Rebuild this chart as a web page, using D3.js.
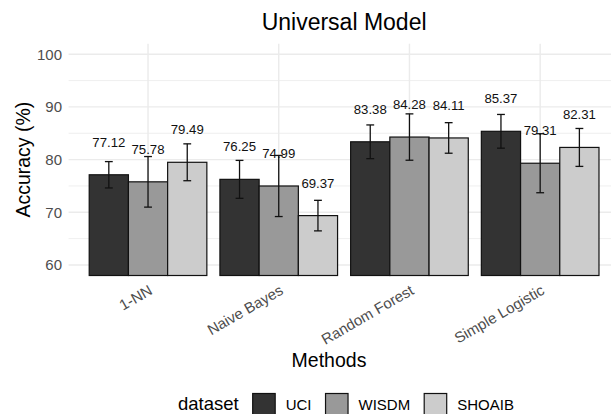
<!DOCTYPE html>
<html>
<head>
<meta charset="utf-8">
<script src="https://cdn.jsdelivr.net/npm/d3@7"></script>
<style>
  body { margin: 0; background: white; }
  text { font-family: "Liberation Sans", Arial, sans-serif; }
</style>
</head>
<body>
<div id="graf"></div>
<script>
// Datos
const methods = ['1-NN', 'Naive Bayes', 'Random Forest', 'Simple Logistic']
const datasets = ['UCI', 'WISDM', 'SHOAIB']
const uciValues = [77.12, 76.25, 83.38, 85.37]
const wisdmValues = [75.78, 74.99, 84.28, 79.31]
const shoaibValues = [79.49, 69.37, 84.11, 82.31]
const uciSd = [2.5, 3.6, 3.2, 3.2]
const wisdmSd = [4.8, 5.8, 4.4, 5.6]
const shoaibSd = [3.5, 2.9, 2.9, 3.6]
const yTicks = [60, 70, 80, 90, 100]
const yMinorTicks = [65, 75, 85, 95]
const fills = ['#333333', '#999999', '#CCCCCC']

const values = [uciValues, wisdmValues, shoaibValues]
const sds = [uciSd, wisdmSd, shoaibSd]

// Tabla larga
const data = []
methods.forEach((m, i) => {
  datasets.forEach((ds, j) => {
    data.push({ method: m, dataset: ds, value: values[j][i], sd: sds[j][i] })
  })
})

const anchoTotal = 611
const altoTotal = 414
const panel = { left: 69.6, right: 618.6, top: 43.7, bottom: 275.5 }

const svg = d3.select('#graf')
  .append('svg')
  .attr('width', anchoTotal)
  .attr('height', altoTotal)

// Escaladores
const y = d3.scaleLinear()
  .domain([58, 102])
  .range([panel.bottom, panel.top])

const x = d3.scaleBand()
  .domain(methods)
  .range([panel.left, panel.right])
  .paddingInner(0.1)
  .paddingOuter(0.15)

const xs = d3.scaleBand()
  .domain(datasets)
  .range([0, x.bandwidth()])

const color = d3.scaleOrdinal()
  .domain(datasets)
  .range(fills)

// Rejilla
const grid = svg.append('g')

grid.selectAll('.minor')
  .data(yMinorTicks)
  .join('line')
  .attr('x1', panel.left - 1)
  .attr('x2', panel.right)
  .attr('y1', d => y(d))
  .attr('y2', d => y(d))
  .attr('stroke', '#EBEBEB')
  .attr('stroke-width', 0.8)

grid.selectAll('.major')
  .data(yTicks)
  .join('line')
  .attr('x1', panel.left - 1)
  .attr('x2', panel.right)
  .attr('y1', d => y(d))
  .attr('y2', d => y(d))
  .attr('stroke', '#EBEBEB')
  .attr('stroke-width', 1.4)

grid.selectAll('.vert')
  .data(methods)
  .join('line')
  .attr('x1', d => x(d) + x.bandwidth() / 2)
  .attr('x2', d => x(d) + x.bandwidth() / 2)
  .attr('y1', panel.top)
  .attr('y2', panel.bottom)
  .attr('stroke', '#EBEBEB')
  .attr('stroke-width', 1.4)

// Barras
const g = svg.append('g')

g.selectAll('rect')
  .data(data)
  .join('rect')
  .attr('x', d => x(d.method) + xs(d.dataset))
  .attr('width', xs.bandwidth())
  .attr('y', d => y(d.value))
  .attr('height', d => panel.bottom - y(d.value))
  .attr('fill', d => color(d.dataset))
  .attr('stroke', '#111')
  .attr('stroke-width', 1.2)

// Barras de error
const capW = xs.bandwidth() * 0.2
const cx = d => x(d.method) + xs(d.dataset) + xs.bandwidth() / 2

const err = g.selectAll('.err')
  .data(data)
  .join('g')
  .attr('class', 'err')
  .attr('stroke', '#111')
  .attr('stroke-width', 1.3)

err.append('line')
  .attr('x1', cx).attr('x2', cx)
  .attr('y1', d => y(d.value + d.sd))
  .attr('y2', d => y(d.value - d.sd))

err.append('line')
  .attr('x1', d => cx(d) - capW / 2).attr('x2', d => cx(d) + capW / 2)
  .attr('y1', d => y(d.value + d.sd))
  .attr('y2', d => y(d.value + d.sd))

err.append('line')
  .attr('x1', d => cx(d) - capW / 2).attr('x2', d => cx(d) + capW / 2)
  .attr('y1', d => y(d.value - d.sd))
  .attr('y2', d => y(d.value - d.sd))

// Etiquetas de valor
g.selectAll('.lbl')
  .data(data)
  .join('text')
  .attr('class', 'lbl')
  .attr('x', cx)
  .attr('y', d => y(d.value) - 28)
  .attr('text-anchor', 'middle')
  .attr('font-size', 13.2)
  .attr('fill', '#111')
  .text(d => d.value.toFixed(2))

// Eje y
svg.append('g')
  .selectAll('text')
  .data(yTicks)
  .join('text')
  .attr('x', 62)
  .attr('y', d => y(d))
  .attr('dy', '0.36em')
  .attr('text-anchor', 'end')
  .attr('font-size', 15)
  .attr('fill', '#4D4D4D')
  .text(d => d)

// Eje x
svg.append('g')
  .selectAll('text')
  .data(methods)
  .join('text')
  .attr('transform', d => `translate(${x(d) + x.bandwidth() / 2}, 284) rotate(-30)`)
  .attr('dy', '0.72em')
  .attr('text-anchor', 'end')
  .attr('font-size', 15)
  .attr('fill', '#4D4D4D')
  .text(d => d)

// Títulos
svg.append('text')
  .attr('x', (panel.left + panel.right) / 2)
  .attr('y', 30)
  .attr('text-anchor', 'middle')
  .attr('font-size', 23)
  .text('Universal Model')

svg.append('text')
  .attr('x', 329)
  .attr('y', 367)
  .attr('text-anchor', 'middle')
  .attr('font-size', 19.5)
  .text('Methods')

svg.append('text')
  .attr('transform', `translate(30, ${(panel.top + panel.bottom) / 2}) rotate(-90)`)
  .attr('text-anchor', 'middle')
  .attr('font-size', 19.5)
  .text('Accuracy (%)')

// Leyenda
const legend = svg.append('g')
let lx = 178

const legTitle = legend.append('text')
  .attr('x', lx)
  .attr('y', 410)
  .attr('font-size', 18.5)
  .text('dataset')

lx += legTitle.node().getComputedTextLength() + 14

datasets.forEach((ds) => {
  legend.append('rect')
    .attr('x', lx)
    .attr('y', 393.5)
    .attr('width', 22.5)
    .attr('height', 22.5)
    .attr('fill', color(ds))
    .attr('stroke', '#111')
    .attr('stroke-width', 1.2)
  const t = legend.append('text')
    .attr('x', lx + 33)
    .attr('y', 410)
    .attr('font-size', 15)
    .text(ds)
  lx += 33 + t.node().getComputedTextLength() + 14
})
</script>
</body>
</html>
